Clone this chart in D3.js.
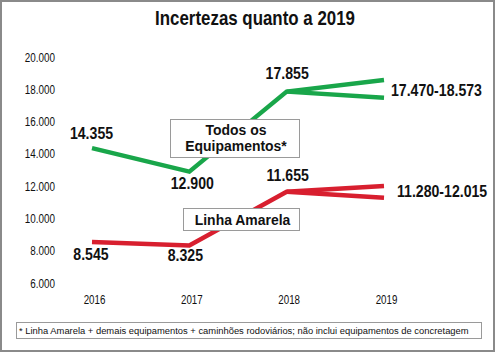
<!DOCTYPE html>
<html>
<head>
<meta charset="utf-8">
<script src="https://cdn.jsdelivr.net/npm/d3@7"></script>
<style>
  body { margin: 0; background: #fff; }
  svg text { font-family: "Liberation Sans", Arial, sans-serif; fill: #111; }
</style>
</head>
<body>
<div id="chart"></div>
<script>
// Data
var years = ["2016", "2017", "2018", "2019"];
var todosValues = [14355, 12900, 17855];      // 2016-2018
var todosRange2019 = [17470, 18573];          // low, high
var linhaValues = [8545, 8325, 11655];
var linhaRange2019 = [11280, 12015];
var yTicks = [6000, 8000, 10000, 12000, 14000, 16000, 18000, 20000];

var svgWidth = 496;
var svgHeight = 354;

var ptBR = d3.formatLocale({ decimal: ",", thousands: ".", grouping: [3], currency: ["", ""] });
var fmt = ptBR.format(",.0f");

var svg = d3.select("#chart")
    .append("svg")
    .attr("width", svgWidth)
    .attr("height", svgHeight);

// outer frame
svg.append("rect")
    .attr("x", 1).attr("y", 1)
    .attr("width", 493).attr("height", 350)
    .attr("fill", "#fff")
    .attr("stroke", "#8a8a8a")
    .attr("stroke-width", 2);

// squeezed text, to look like the condensed face of the original
function narrowText(px, py, txt, size, weight, anchor, sx) {
    var g = svg.append("g")
        .attr("transform", `translate(${px},${py}) scale(${sx},1)`);
    return g.append("text")
        .attr("text-anchor", anchor)
        .style("font-size", size + "px")
        .style("font-weight", weight)
        .text(txt);
}

// title, fitted to the width seen in the picture
var title = narrowText(255, 25, "Incertezas quanto a 2019", 20, "bold", "middle", 1);
var tw = title.node().getComputedTextLength();
d3.select(title.node().parentNode)
    .attr("transform", `translate(255,25) scale(${200 / tw},1)`);

// scales
var x = d3.scalePoint().domain(years).range([92, 384]);
var y = d3.scaleLinear().domain([6000, 20000]).range([283, 57]);

// y axis (labels only)
var leftAxis = d3.axisLeft(y).tickValues(yTicks).tickFormat(fmt).tickSize(0).tickPadding(0);
var yAxisG = svg.append("g")
    .attr("transform", "translate(55,0)")
    .call(leftAxis);
yAxisG.select(".domain").remove();
yAxisG.selectAll("text")
    .style("font-family", "'Liberation Sans', sans-serif")
    .style("font-size", "12.5px")
    .attr("fill", "#111")
    .attr("transform", "scale(0.79,1)");

// x axis (labels only)
var bottomAxis = d3.axisBottom(x).tickSize(0).tickPadding(0);
var xAxisG = svg.append("g")
    .attr("transform", "translate(2,295)")
    .call(bottomAxis);
xAxisG.select(".domain").remove();
xAxisG.selectAll("text")
    .style("font-family", "'Liberation Sans', sans-serif")
    .style("font-size", "12.5px")
    .attr("fill", "#111")
    .attr("transform", "scale(0.78,1)");

var line = d3.line().x(d => x(d.year)).y(d => y(d.value));

function drawSeries(values, range2019, color) {
    var main = values.map((v, i) => ({ year: years[i], value: v }));
    var hi = main.concat([{ year: "2019", value: range2019[1] }]);
    var lo = [main[2], { year: "2019", value: range2019[0] }];
    [hi, lo].forEach(function(pts) {
        svg.append("path")
            .datum(pts)
            .attr("d", line)
            .attr("fill", "none")
            .attr("stroke", color)
            .attr("stroke-width", 4.5)
            .attr("stroke-linejoin", "miter");
    });
}

drawSeries(todosValues, todosRange2019, "#19a64a");
drawSeries(linhaValues, linhaRange2019, "#d81f2f");

// value labels (offsets from the data point)
function valueLabel(year, value, dx, dy, txt, anchor) {
    narrowText(x(year) + dx, y(value) + dy, txt, 17, "bold", anchor || "middle", 0.83);
}

valueLabel("2016", todosValues[0], -0.5, -9, fmt(todosValues[0]));
valueLabel("2017", todosValues[1], 3, 17, fmt(todosValues[1]));
valueLabel("2018", todosValues[2], 0.5, -12.5, fmt(todosValues[2]));
valueLabel("2019", todosRange2019[0], 7, -2, fmt(todosRange2019[0]) + "-" + fmt(todosRange2019[1]), "start");

valueLabel("2016", linhaValues[0], -1, 18, fmt(linhaValues[0]));
valueLabel("2017", linhaValues[1], -4, 16, fmt(linhaValues[1]));
valueLabel("2018", linhaValues[2], 1, -11, fmt(linhaValues[2]));
valueLabel("2019", linhaRange2019[0], 13, -1, fmt(linhaRange2019[0]) + "-" + fmt(linhaRange2019[1]), "start");

// series name boxes
function nameBox(bx, by, bw, bh, lines, baselines) {
    svg.append("rect")
        .attr("x", bx).attr("y", by)
        .attr("width", bw).attr("height", bh)
        .attr("fill", "#fff")
        .attr("stroke", "#9a9a9a")
        .attr("stroke-width", 1);
    lines.forEach(function(t, i) {
        narrowText(bx + bw / 2 + 1, baselines[i], t, 15.5, "bold", "middle", 0.9);
    });
}

nameBox(170.5, 119.5, 129, 38, ["Todos os", "Equipamentos*"], [134.5, 151]);
nameBox(183.5, 208.5, 116, 22, ["Linha Amarela"], [225]);

// footnote
svg.append("rect")
    .attr("x", 16.5).attr("y", 322.5)
    .attr("width", 465).attr("height", 16)
    .attr("fill", "#fff")
    .attr("stroke", "#9a9a9a")
    .attr("stroke-width", 1);

var note = narrowText(19, 334, "* Linha Amarela + demais equipamentos + caminhões rodoviários; não inclui equipamentos de concretagem", 9.5, "normal", "start", 1);
var nw = note.node().getComputedTextLength();
d3.select(note.node().parentNode)
    .attr("transform", `translate(19,334) scale(${450 / nw},1)`);
</script>
</body>
</html>
